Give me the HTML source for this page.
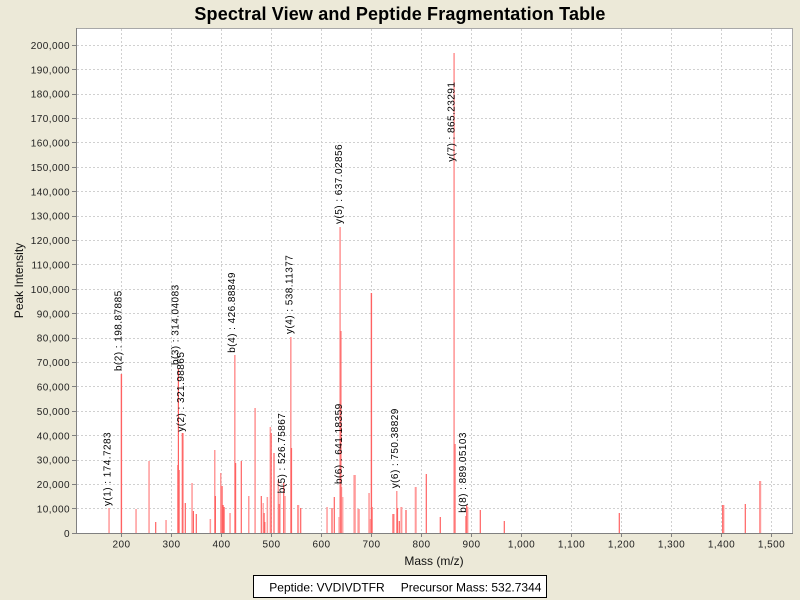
<!DOCTYPE html>
<html><head><meta charset="utf-8"><style>
html,body{margin:0;padding:0;background:#ECE9D8;}
svg{display:block;font-family:"Liberation Sans",Arial,sans-serif;}
.tk{font-size:10px;letter-spacing:0.45px;fill:#222;}
.lb{font-size:10px;letter-spacing:0.45px;fill:#000;}
</style></head><body>
<svg width="800" height="600" viewBox="0 0 800 600" xmlns="http://www.w3.org/2000/svg">
<rect width="800" height="600" fill="#ECE9D8"/>
<text x="400" y="20" text-anchor="middle" font-size="18" font-weight="bold" letter-spacing="0.15" fill="#000">Spectral View and Peptide Fragmentation Table</text>
<rect x="76.5" y="28.5" width="716" height="505" fill="#fff" stroke="#A8A8A8" stroke-width="1"/>
<g stroke="#D0D0D0" stroke-width="1" stroke-dasharray="2,2">
<line x1="121.5" y1="29" x2="121.5" y2="533"/><line x1="171.5" y1="29" x2="171.5" y2="533"/><line x1="221.5" y1="29" x2="221.5" y2="533"/><line x1="271.5" y1="29" x2="271.5" y2="533"/><line x1="321.5" y1="29" x2="321.5" y2="533"/><line x1="371.5" y1="29" x2="371.5" y2="533"/><line x1="421.5" y1="29" x2="421.5" y2="533"/><line x1="471.5" y1="29" x2="471.5" y2="533"/><line x1="521.5" y1="29" x2="521.5" y2="533"/><line x1="571.5" y1="29" x2="571.5" y2="533"/><line x1="621.5" y1="29" x2="621.5" y2="533"/><line x1="671.5" y1="29" x2="671.5" y2="533"/><line x1="721.5" y1="29" x2="721.5" y2="533"/><line x1="771.5" y1="29" x2="771.5" y2="533"/>
<line x1="77" y1="508.5" x2="792" y2="508.5"/><line x1="77" y1="484.5" x2="792" y2="484.5"/><line x1="77" y1="460.5" x2="792" y2="460.5"/><line x1="77" y1="435.5" x2="792" y2="435.5"/><line x1="77" y1="411.5" x2="792" y2="411.5"/><line x1="77" y1="386.5" x2="792" y2="386.5"/><line x1="77" y1="362.5" x2="792" y2="362.5"/><line x1="77" y1="338.5" x2="792" y2="338.5"/><line x1="77" y1="313.5" x2="792" y2="313.5"/><line x1="77" y1="289.5" x2="792" y2="289.5"/><line x1="77" y1="264.5" x2="792" y2="264.5"/><line x1="77" y1="240.5" x2="792" y2="240.5"/><line x1="77" y1="216.5" x2="792" y2="216.5"/><line x1="77" y1="191.5" x2="792" y2="191.5"/><line x1="77" y1="167.5" x2="792" y2="167.5"/><line x1="77" y1="142.5" x2="792" y2="142.5"/><line x1="77" y1="118.5" x2="792" y2="118.5"/><line x1="77" y1="94.5" x2="792" y2="94.5"/><line x1="77" y1="69.5" x2="792" y2="69.5"/><line x1="77" y1="45.5" x2="792" y2="45.5"/>
</g>
<g id="bars">
<!-- light bars -->
<g fill="#FF9A9A">
<rect x="108.3" y="508" width="1.5" height="25"/>
<rect x="135.3" y="509" width="1.5" height="24"/>
<rect x="148.3" y="461" width="1.5" height="72"/>
<rect x="165.3" y="520" width="1.5" height="13"/>
<rect x="177" y="465" width="1.5" height="68"/>
<rect x="182.6" y="433" width="1.2" height="100"/>
<rect x="191.3" y="483" width="1.5" height="50"/>
<rect x="209.6" y="519" width="1.5" height="14"/>
<rect x="214" y="450" width="1.5" height="83"/>
<rect x="220" y="473" width="1.5" height="60"/>
<rect x="229.3" y="513" width="1.5" height="20"/>
<rect x="234" y="355" width="1.6" height="178"/>
<rect x="248" y="496" width="1.5" height="37"/>
<rect x="254.3" y="408" width="1.6" height="125"/>
<rect x="262.6" y="503" width="1.2" height="30"/>
<rect x="266.6" y="497" width="1.5" height="36"/>
<rect x="269.6" y="427" width="1.5" height="106"/>
<rect x="277.6" y="480" width="1.5" height="53"/>
<rect x="279.5" y="493" width="1.2" height="40"/>
<rect x="284.5" y="496" width="1.2" height="37"/>
<rect x="290" y="337" width="1.6" height="196"/>
<rect x="297" y="505" width="2.2" height="28"/>
<rect x="326.3" y="507" width="1.5" height="26"/>
<rect x="331" y="508" width="2" height="25"/>
<rect x="338.4" y="517" width="1.2" height="16"/>
<rect x="339.3" y="227" width="1.6" height="306"/>
<rect x="341" y="487" width="1.2" height="46"/>
<rect x="342.2" y="497" width="1.2" height="36"/>
<rect x="353.4" y="475" width="2.4" height="58"/>
<rect x="357.4" y="509" width="2.4" height="24"/>
<rect x="368.3" y="493" width="1.5" height="40"/>
<rect x="369.6" y="519" width="1.2" height="14"/>
<rect x="371.8" y="507" width="1.2" height="26"/>
<rect x="392" y="514" width="1.2" height="19"/>
<rect x="396" y="491" width="1.5" height="42"/>
<rect x="400.4" y="507" width="2" height="26"/>
<rect x="405" y="510" width="2" height="23"/>
<rect x="414.7" y="487" width="2" height="46"/>
<rect x="453.3" y="53" width="1.6" height="480"/>
<rect x="465" y="516" width="1.2" height="17"/>
<rect x="467.2" y="507" width="1.2" height="26"/>
<rect x="723" y="505" width="1.4" height="28"/>
<rect x="759" y="481" width="2.2" height="52"/>
</g>
<!-- darker bars -->
<g fill="#FF6262">
<rect x="120.7" y="374" width="1.4" height="159"/>
<rect x="155.1" y="522" width="1.2" height="11"/>
<rect x="178.5" y="470" width="1.2" height="63"/>
<rect x="177.8" y="369" width="1.2" height="164"/>
<rect x="181.7" y="433" width="1.2" height="100"/>
<rect x="184.7" y="503" width="1.2" height="30"/>
<rect x="192.8" y="511" width="1.2" height="22"/>
<rect x="195.7" y="514" width="1.2" height="19"/>
<rect x="214.8" y="496" width="1.2" height="37"/>
<rect x="221.5" y="486" width="1.2" height="47"/>
<rect x="222.5" y="505" width="1.2" height="28"/>
<rect x="223.5" y="507" width="1.2" height="26"/>
<rect x="235" y="463" width="1.2" height="70"/>
<rect x="240.7" y="461" width="1.2" height="72"/>
<rect x="260.7" y="496" width="1.2" height="37"/>
<rect x="263.5" y="513" width="1.2" height="20"/>
<rect x="264.2" y="522" width="1.2" height="11"/>
<rect x="270.6" y="433" width="1.2" height="100"/>
<rect x="273.4" y="453" width="1.2" height="80"/>
<rect x="278.5" y="504" width="1.2" height="29"/>
<rect x="283.1" y="483" width="1.2" height="50"/>
<rect x="290.9" y="448" width="1.2" height="85"/>
<rect x="300.1" y="508" width="1.2" height="25"/>
<rect x="333.7" y="497" width="1.2" height="36"/>
<rect x="340.3" y="331" width="1.2" height="202"/>
<rect x="370.7" y="293" width="1.4" height="240"/>
<rect x="393.2" y="514" width="1.2" height="19"/>
<rect x="396.9" y="508" width="1.2" height="25"/>
<rect x="398.7" y="521" width="1.2" height="12"/>
<rect x="425.7" y="474" width="1.2" height="59"/>
<rect x="439.7" y="517" width="1.2" height="16"/>
<rect x="454.4" y="444" width="1.2" height="89"/>
<rect x="466.1" y="505" width="1.2" height="28"/>
<rect x="479.7" y="510" width="1.2" height="23"/>
<rect x="503.7" y="521" width="1.2" height="12"/>
<rect x="618.7" y="513" width="1.2" height="20"/>
<rect x="722.1" y="505" width="1.2" height="28"/>
<rect x="744.7" y="504" width="1.2" height="29"/>
</g>
</g>
<!-- axes -->
<line x1="76.5" y1="28" x2="76.5" y2="534" stroke="#808080" stroke-width="1"/>
<line x1="76" y1="533.5" x2="793" y2="533.5" stroke="#808080" stroke-width="1"/>
<g stroke="#808080" stroke-width="1">
<line x1="72" y1="533.5" x2="76" y2="533.5"/><line x1="72" y1="508.5" x2="76" y2="508.5"/><line x1="72" y1="484.5" x2="76" y2="484.5"/><line x1="72" y1="460.5" x2="76" y2="460.5"/><line x1="72" y1="435.5" x2="76" y2="435.5"/><line x1="72" y1="411.5" x2="76" y2="411.5"/><line x1="72" y1="386.5" x2="76" y2="386.5"/><line x1="72" y1="362.5" x2="76" y2="362.5"/><line x1="72" y1="338.5" x2="76" y2="338.5"/><line x1="72" y1="313.5" x2="76" y2="313.5"/><line x1="72" y1="289.5" x2="76" y2="289.5"/><line x1="72" y1="264.5" x2="76" y2="264.5"/><line x1="72" y1="240.5" x2="76" y2="240.5"/><line x1="72" y1="216.5" x2="76" y2="216.5"/><line x1="72" y1="191.5" x2="76" y2="191.5"/><line x1="72" y1="167.5" x2="76" y2="167.5"/><line x1="72" y1="142.5" x2="76" y2="142.5"/><line x1="72" y1="118.5" x2="76" y2="118.5"/><line x1="72" y1="94.5" x2="76" y2="94.5"/><line x1="72" y1="69.5" x2="76" y2="69.5"/><line x1="72" y1="45.5" x2="76" y2="45.5"/>
<line x1="121.5" y1="534" x2="121.5" y2="537"/><line x1="171.5" y1="534" x2="171.5" y2="537"/><line x1="221.5" y1="534" x2="221.5" y2="537"/><line x1="271.5" y1="534" x2="271.5" y2="537"/><line x1="321.5" y1="534" x2="321.5" y2="537"/><line x1="371.5" y1="534" x2="371.5" y2="537"/><line x1="421.5" y1="534" x2="421.5" y2="537"/><line x1="471.5" y1="534" x2="471.5" y2="537"/><line x1="521.5" y1="534" x2="521.5" y2="537"/><line x1="571.5" y1="534" x2="571.5" y2="537"/><line x1="621.5" y1="534" x2="621.5" y2="537"/><line x1="671.5" y1="534" x2="671.5" y2="537"/><line x1="721.5" y1="534" x2="721.5" y2="537"/><line x1="771.5" y1="534" x2="771.5" y2="537"/>
</g>
<g class="tk" text-anchor="end">
<text x="70" y="537">0</text><text x="70" y="512.5">10,000</text><text x="70" y="488">20,000</text><text x="70" y="463.7">30,000</text><text x="70" y="439.3">40,000</text><text x="70" y="414.9">50,000</text><text x="70" y="390.5">60,000</text><text x="70" y="366.1">70,000</text><text x="70" y="341.7">80,000</text><text x="70" y="317.3">90,000</text><text x="70" y="292.9">100,000</text><text x="70" y="268.5">110,000</text><text x="70" y="244.1">120,000</text><text x="70" y="219.7">130,000</text><text x="70" y="195.3">140,000</text><text x="70" y="170.9">150,000</text><text x="70" y="146.5">160,000</text><text x="70" y="122.1">170,000</text><text x="70" y="97.7">180,000</text><text x="70" y="73.3">190,000</text><text x="70" y="48.9">200,000</text>
</g>
<g class="tk" text-anchor="middle">
<text x="121.5" y="547.5">200</text><text x="171.5" y="547.5">300</text><text x="221.5" y="547.5">400</text><text x="271.5" y="547.5">500</text><text x="321.5" y="547.5">600</text><text x="371.5" y="547.5">700</text><text x="421.5" y="547.5">800</text><text x="471.5" y="547.5">900</text><text x="521.5" y="547.5">1,000</text><text x="571.5" y="547.5">1,100</text><text x="621.5" y="547.5">1,200</text><text x="671.5" y="547.5">1,300</text><text x="721.5" y="547.5">1,400</text><text x="771.5" y="547.5">1,500</text>
</g>
<text x="434" y="565" text-anchor="middle" font-size="12" fill="#111">Mass (m/z)</text>
<text transform="translate(23,280.5) rotate(-90)" text-anchor="middle" font-size="12" fill="#111">Peak Intensity</text>
<!-- peak labels -->
<g class="lb">
<text transform="translate(110.7,506) rotate(-90)">y(1) : 174.7283</text>
<text transform="translate(121.4,371) rotate(-90)">b(2) : 198.87885</text>
<text transform="translate(178.7,365) rotate(-90)">b(3) : 314.04083</text>
<text transform="translate(184,431.7) rotate(-90)">y(2) : 321.98865</text>
<text transform="translate(235.2,352.7) rotate(-90)">b(4) : 426.88849</text>
<text transform="translate(285.2,493.3) rotate(-90)">b(5) : 526.75867</text>
<text transform="translate(292.7,334) rotate(-90)">y(4) : 538.11377</text>
<text transform="translate(342,224) rotate(-90)">y(5) : 637.02856</text>
<text transform="translate(342,484) rotate(-90)">b(6) : 641.18359</text>
<text transform="translate(397.9,488.3) rotate(-90)">y(6) : 750.38829</text>
<text transform="translate(454.7,161.7) rotate(-90)">y(7) : 865.23291</text>
<text transform="translate(466.2,512.7) rotate(-90)">b(8) : 889.05103</text>
</g>
<!-- legend -->
<rect x="253.5" y="575.5" width="293" height="22" fill="#fff" stroke="#000" stroke-width="1"/>
<text x="269.3" y="591.5" font-size="12" fill="#000">Peptide: VVDIVDTFR</text>
<text x="400.7" y="591.5" font-size="12" fill="#000">Precursor Mass: 532.7344</text>
</svg>
</body></html>
